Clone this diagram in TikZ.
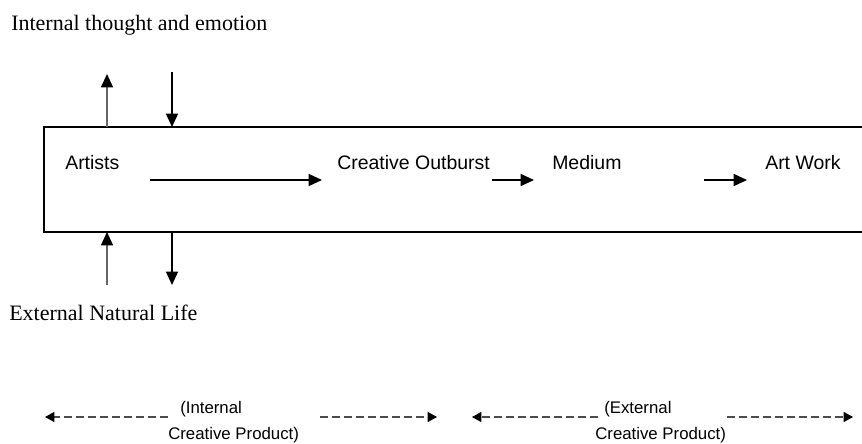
\documentclass[tikz,border=0pt]{standalone}
\usepackage{fontspec}
\setmainfont{Liberation Serif}
\setsansfont{Liberation Sans}
\usetikzlibrary{positioning,arrows.meta}

\begin{document}
\begin{tikzpicture}[x=0.75pt,y=-0.75pt,>={Triangle[length=10pt,width=9pt,color=black]},
  ttl/.style={font=\rmfamily\fontsize{16.5}{18}\selectfont,inner sep=0pt,anchor=west},
  stage/.style={font=\sffamily\fontsize{14.6}{16}\selectfont,inner sep=0pt,anchor=west},
  prod/.style={font=\sffamily\fontsize{12.6}{14}\selectfont,inner sep=0pt,anchor=west},
  flow/.style={->,line width=1pt},
  feed/.style={->,line width=1pt,draw=gray!80!black},
  span/.style={-{Triangle[length=7pt,width=7.5pt,color=black]},line width=0.9pt,draw=gray!60!black,dash pattern=on 6pt off 3pt}]
  \useasboundingbox (0,0) rectangle (862,443);
  % frame, open at the right side
  \draw[line width=1.1pt] (862,127) -| (44,232) -- (862,232);
  \coordinate (bx1) at (107,127); \coordinate (bx2) at (172,127);
  \coordinate (bx3) at (107,232); \coordinate (bx4) at (172,232);
  % outside labels and feeds
  \node[ttl] (thought) at (11,25) {Internal thought and emotion};
  \node[ttl] (nature) at (9,313) {External Natural Life};
  \coordinate (up1) at (107,74); \coordinate (dn1) at (172,72);
  \coordinate (up2) at (107,285); \coordinate (dn2) at (172,285);
  \draw[feed] (bx1) -- (up1); \draw[flow] (dn1) -- (bx2);
  \draw[feed] (up2) -- (bx3); \draw[flow] (bx4) -- (dn2);
  % stages inside the frame
  \node[stage] (artists) at (65,163) {Artists};
  \node[stage] (outburst) at (337,163) {Creative Outburst};
  \node[stage] (medium) at (552,163) {Medium};
  \node[stage] (artwork) at (765,163) {Art Work};
  \coordinate (a1) at (150,180); \coordinate (a2) at (322,180);
  \coordinate (b1) at (492,180); \coordinate (b2) at (534,180);
  \coordinate (c1) at (704,180); \coordinate (c2) at (747,180);
  \draw[flow] (a1) -- (a2); \draw[flow] (b1) -- (b2); \draw[flow] (c1) -- (c2);
  % products
  \node[prod] (intA) at (180,409) {(Internal};
  \node[prod] (intB) at (168,435) {Creative Product)};
  \node[prod] (extA) at (604,409) {(External};
  \node[prod] (extB) at (595,435) {Creative Product)};
  \coordinate (p1) at (45,417); \coordinate (p2) at (168,417);
  \coordinate (p3) at (320,417); \coordinate (p4) at (437,417);
  \coordinate (q1) at (472,417); \coordinate (q2) at (598,417);
  \coordinate (q3) at (727,417); \coordinate (q4) at (853,417);
  \draw[span] (p2) -- (p1); \draw[span] (p3) -- (p4);
  \draw[span] (q2) -- (q1); \draw[span] (q3) -- (q4);
\end{tikzpicture}
\end{document}
